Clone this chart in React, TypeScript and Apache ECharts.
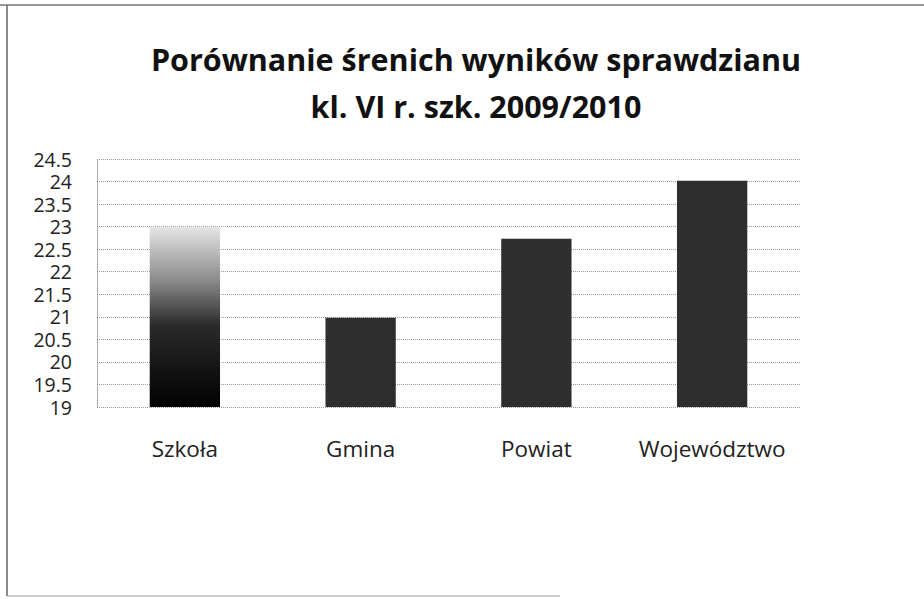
import React, { useEffect, useRef } from "react";
import * as echarts from "echarts";

const titleLines = ["Porównanie śrenich wyników sprawdzianu", "kl. VI r. szk. 2009/2010"];
const categories = ["Szkoła", "Gmina", "Powiat", "Województwo"];
const values = [23.0, 20.98, 22.73, 24.02];
const yMin = 19;
const yMax = 24.5;
const yStep = 0.5;

export default function App() {
  const ref = useRef<HTMLDivElement>(null);
  useEffect(() => {
    if (!ref.current) return;
    const chart = echarts.init(ref.current, undefined, { renderer: "svg" });
    const font = "Open Sans";
    chart.setOption({
      animation: false,
      backgroundColor: "#ffffff",
      title: {
        text: titleLines.join("\n"),
        top: 30,
        left: 471,
        textAlign: "center",
        textStyle: {
          fontFamily: font,
          fontWeight: "bold",
          fontSize: 30.5,
          lineHeight: 47,
          color: "#111",
        },
      },
      graphic: [
        { type: "line", shape: { x1: 0, y1: 5, x2: 924, y2: 5 }, style: { stroke: "#777", lineWidth: 1.5 } },
        { type: "line", shape: { x1: 7, y1: 5, x2: 7, y2: 596 }, style: { stroke: "#666", lineWidth: 1.5 } },
        { type: "line", shape: { x1: 7, y1: 596, x2: 560, y2: 596 }, style: { stroke: "#999", lineWidth: 1 } },
      ],
      grid: { left: 97, right: 124, top: 159, bottom: 192, containLabel: false },
      xAxis: {
        type: "category",
        data: categories,
        axisLine: { show: false },
        axisTick: { show: false },
        axisLabel: {
          interval: 0,
          fontFamily: font,
          fontSize: 22.5,
          color: "#222",
          margin: 30,
        },
      },
      yAxis: {
        type: "value",
        min: yMin,
        max: yMax,
        interval: yStep,
        axisLine: { show: true, lineStyle: { color: "#999", type: "dotted", width: 1 } },
        axisTick: { show: false },
        splitLine: { show: true, lineStyle: { color: "#999", type: "dotted", width: 1 } },
        axisLabel: {
          fontFamily: font,
          fontSize: 19.5,
          lineHeight: 19,
          color: "#222",
          margin: 25,
          formatter: (v: number) => String(v),
        },
      },
      series: [
        {
          type: "bar",
          barWidth: "40%",
          data: values.map((v, i) => ({
            value: v,
            itemStyle:
              i === 0
                ? {
                    color: new echarts.graphic.LinearGradient(0, 0, 0, 1, [
                      { offset: 0, color: "#e6e6e6" },
                      { offset: 0.3, color: "#8a8a8a" },
                      { offset: 0.55, color: "#2a2a2a" },
                      { offset: 1, color: "#000000" },
                    ]),
                  }
                : { color: "#2e2e2e" },
          })),
        },
      ],
    });
    return () => chart.dispose();
  }, []);
  return (
    <div
      ref={ref}
      style={{ position: "absolute", left: 0, top: 0, width: 924, height: 599 }}
    />
  );
}
